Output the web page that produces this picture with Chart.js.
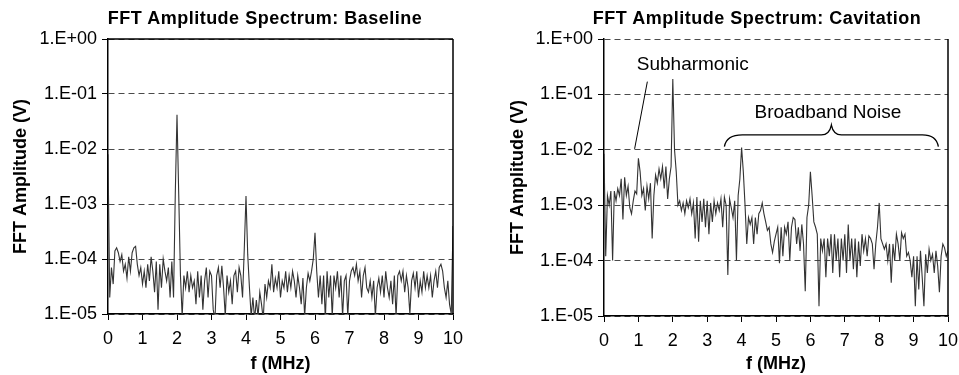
<!DOCTYPE html>
<html>
<head>
<meta charset="utf-8">
<script src="https://cdn.jsdelivr.net/npm/chart.js@4"></script>
<style>
body { margin: 0; background: #fff; width: 959px; height: 375px; overflow: hidden; position: relative;
       font-family: "Liberation Sans", Arial, sans-serif; }
.box { position: absolute; top: 0; height: 375px; }
.title { position: absolute; top: 8px; width: 480px; text-align: center; font-weight: bold;
         font-size: 18px; letter-spacing: 0.5px; line-height: 20px; color: #000; }
</style>
</head>
<body>
<div class="box" style="left:0;width:480px"><canvas id="baseChart"></canvas></div>
<div class="box" style="left:480px;width:479px"><canvas id="cavChart"></canvas></div>
<div class="title" style="left:25px">FFT Amplitude Spectrum: Baseline</div>
<div class="title" style="left:517px">FFT Amplitude Spectrum: Cavitation</div>
<script>
// frequency bins: 0 .. 10 MHz, one value every 0.05 MHz (10 values per row = 0.5 MHz)
const freqStep = 0.05;
const xTicks = [0, 1, 2, 3, 4, 5, 6, 7, 8, 9, 10];
const yTicks = [1e-5, 1e-4, 1e-3, 1e-2, 1e-1, 1];
const yTickLabels = ['1.E-05', '1.E-04', '1.E-03', '1.E-02', '1.E-01', '1.E+00'];

const baseline = [
  8e-3, 2e-5, 7e-5, 3.5e-5, 1.4e-4, 1.6e-4, 1.3e-4, 9e-5, 1.2e-4, 6e-5,
  8e-5, 4.5e-5, 1.1e-4, 6e-5, 1.3e-4, 1.6e-4, 1.7e-4, 8e-5, 5e-5, 7e-5,
  3.5e-5, 6e-5, 3e-5, 8e-5, 4e-5, 1.1e-4, 6e-5, 2.5e-5, 9e-5, 1.2e-5,
  8e-5, 3e-5, 1e-4, 6e-5, 4e-5, 7e-5, 2e-5, 9e-5, 2e-5, 1.5e-3,
  4.2e-2, 1.5e-3, 5e-5, 9e-6, 5e-5, 3e-5, 6e-5, 2.5e-5, 5e-5, 3e-5,
  4e-5, 1.5e-5, 6e-5, 2e-5, 5e-5, 1.2e-5, 4e-5, 7e-5, 2e-5, 6e-5,
  5e-5, 1.2e-5, 8e-6, 5e-5, 7e-5, 3e-5, 7.5e-5, 3e-5, 9e-6, 5e-5,
  2.5e-5, 4e-5, 1.5e-5, 5e-5, 6e-5, 2.5e-5, 7e-5, 5e-5, 2e-5, 1.5e-4,
  1.4e-3, 1.2e-4, 3e-5, 9e-6, 2e-5, 8e-6, 1.8e-5, 9e-6, 2.5e-5, 1.5e-5,
  8e-6, 3.5e-5, 2e-5, 4e-5, 3e-5, 8e-5, 2.5e-5, 4.5e-5, 3e-5, 6e-5,
  2e-5, 4e-5, 3e-5, 6e-5, 2.5e-5, 5e-5, 3e-5, 6e-5, 4e-5, 2e-5,
  5e-5, 3e-5, 1.5e-5, 4.5e-5, 9e-6, 3e-5, 5.5e-5, 4e-5, 6e-5, 1e-4,
  3e-4, 6e-5, 2e-5, 5e-5, 1.5e-5, 5e-5, 8e-6, 6e-5, 2e-5, 5e-5,
  9e-6, 5e-5, 3e-5, 6e-5, 2e-5, 5e-5, 9e-6, 4e-5, 5e-5, 9e-6,
  4e-5, 6e-5, 7e-5, 5e-5, 8e-5, 4e-5, 6e-5, 2e-5, 5e-5, 7e-5,
  3e-5, 2.5e-5, 4e-5, 2e-5, 4e-5, 9e-6, 3e-5, 4.5e-5, 2.5e-5, 5e-5,
  2e-5, 6e-5, 3e-5, 2e-5, 4e-5, 1.5e-5, 5e-5, 9e-6, 5e-5, 6e-5,
  4e-5, 6e-5, 2.5e-5, 5e-5, 3e-5, 1e-5, 4e-5, 5.5e-5, 3e-5, 6e-5,
  2e-5, 4e-5, 2.5e-5, 6e-5, 3e-5, 5e-5, 3e-5, 5e-5, 2e-5, 4e-5,
  6e-5, 3e-5, 7e-5, 8e-5, 6e-5, 3e-5, 2e-5, 4e-5, 1.5e-5, 1e-5,
  4e-4
];

const cavitation = [
  8.5e-3, 1.2e-4, 1.5e-3, 1e-3, 1.8e-3, 1e-4, 1.8e-3, 1.2e-3, 2e-3, 1.5e-3,
  3e-3, 5.5e-4, 3.2e-3, 1.5e-3, 2.2e-3, 9e-4, 7e-4, 1.2e-3, 1.8e-3, 1.6e-3,
  7e-3, 4e-3, 1.5e-3, 2e-3, 8e-4, 2.2e-3, 1.3e-3, 2.5e-3, 2.5e-4, 1.5e-3,
  3.5e-3, 2.5e-3, 4.5e-3, 3e-3, 5e-3, 2e-3, 5e-3, 1.3e-3, 3e-3, 5e-3,
  0.19, 1e-2, 4e-3, 1e-3, 1.2e-3, 8e-4, 1.1e-3, 7e-4, 1.2e-3, 9e-4,
  1.3e-3, 7e-4, 1.1e-3, 2.5e-4, 1.4e-3, 2.2e-4, 1.2e-3, 5e-4, 1.3e-3, 4e-4,
  1.2e-3, 3e-4, 1.1e-3, 5e-4, 1.2e-3, 7e-4, 1.1e-3, 8e-4, 1.3e-3, 4e-4,
  1.4e-3, 1e-3, 5.5e-5, 1.3e-3, 9e-4, 6e-4, 1.2e-3, 1e-4, 1.5e-3, 3e-3,
  1.1e-2, 4e-3, 1e-3, 2e-4, 6e-4, 4.5e-4, 6e-4, 2e-4, 6e-4, 3e-4,
  7e-4, 8e-4, 1.1e-3, 7e-4, 5e-4, 3.5e-4, 4e-4, 2e-4, 1.4e-4, 2.2e-4,
  3e-4, 4e-4, 9e-5, 4e-4, 1.2e-4, 4e-4, 3e-4, 5e-4, 1e-4, 4e-4,
  6e-4, 5.5e-4, 2e-4, 4e-4, 1.5e-4, 4.5e-4, 2e-4, 2.8e-5, 6e-4, 1e-3,
  4e-3, 1.5e-3, 5e-4, 4e-4, 3e-4, 1.5e-5, 2.5e-4, 1.5e-4, 2.5e-4, 5e-5,
  2.5e-4, 1.2e-4, 3e-4, 6e-5, 3e-4, 1e-4, 2.5e-4, 5e-5, 2.5e-4, 1e-4,
  3e-4, 6e-5, 4.5e-4, 1e-4, 2.5e-4, 7e-5, 2.5e-4, 5e-5, 2.2e-4, 8e-5,
  3e-4, 1.5e-4, 2.5e-4, 1.2e-4, 2.8e-4, 2.5e-4, 2e-4, 7e-5, 2e-4, 4e-4,
  1.1e-3, 2.5e-4, 2e-4, 1.6e-4, 2e-4, 1e-4, 2e-4, 4e-5, 2e-4, 1e-4,
  3e-4, 2e-4, 1e-4, 3.2e-4, 2.5e-4, 3e-4, 1.2e-4, 1.4e-4, 1e-4, 5e-5,
  1.2e-4, 1.5e-5, 1.2e-4, 3e-5, 1.5e-4, 5e-5, 1.5e-5, 1.3e-4, 6e-5, 1.6e-4,
  1e-4, 1.3e-4, 6e-5, 1.5e-4, 8e-5, 2.7e-5, 1.2e-4, 2e-4, 1.7e-4, 1.2e-4,
  1.5e-4
];

// annotations on the cavitation chart, in data units (MHz, V)
const subLabel = { text: 'Subharmonic', x: 2.58, y: 0.34 };
const subLeader = [[1.26, 0.17], [0.89, 0.0104]];
const noiseLabel = { text: 'Broadband Noise', x: 6.51, y: 0.0465 };
const noiseBrace = { from: 3.5, to: 9.72, tip: 6.61, yEnd: 0.0114, yBar: 0.0186, yTip: 0.028 };

const FONT = '"Liberation Sans", Arial, sans-serif';

const framePlugin = {
  id: 'frame',
  afterDatasetsDraw(chart, args, opts) {
    const { ctx, chartArea: a } = chart;
    ctx.save();
    ctx.strokeStyle = '#000';
    ctx.lineWidth = 1.5;
    ctx.beginPath();
    if (opts.solidTop) {
      ctx.moveTo(a.left, a.top);
      ctx.lineTo(a.right, a.top);
    }
    ctx.moveTo(a.right, a.top);
    ctx.lineTo(a.right, a.bottom);
    ctx.stroke();
    ctx.restore();
  }
};

const notesPlugin = {
  id: 'notes',
  afterDatasetsDraw(chart, args, opts) {
    if (!opts.show) return;
    const { ctx } = chart;
    const xs = chart.scales.x, ys = chart.scales.y;
    const px = v => xs.getPixelForValue(v), py = v => ys.getPixelForValue(v);
    ctx.save();
    ctx.fillStyle = '#000';
    ctx.strokeStyle = '#000';
    ctx.lineWidth = 1;
    ctx.font = '19px ' + FONT;
    ctx.textAlign = 'center';
    ctx.textBaseline = 'middle';
    ctx.fillText(subLabel.text, px(subLabel.x), py(subLabel.y));
    ctx.fillText(noiseLabel.text, px(noiseLabel.x), py(noiseLabel.y));

    ctx.beginPath();
    ctx.moveTo(px(subLeader[0][0]), py(subLeader[0][1]));
    ctx.lineTo(px(subLeader[1][0]), py(subLeader[1][1]));
    ctx.stroke();

    const x1 = px(noiseBrace.from), x2 = px(noiseBrace.to), xm = px(noiseBrace.tip);
    const yE = py(noiseBrace.yEnd), yB = py(noiseBrace.yBar), yT = py(noiseBrace.yTip);
    ctx.lineWidth = 1.3;
    ctx.beginPath();
    ctx.moveTo(x1, yE);
    ctx.quadraticCurveTo(x1 + 2, yB, x1 + 18, yB);
    ctx.lineTo(xm - 10, yB);
    ctx.quadraticCurveTo(xm - 2, yB, xm, yT);
    ctx.quadraticCurveTo(xm + 2, yB, xm + 10, yB);
    ctx.lineTo(x2 - 16, yB);
    ctx.quadraticCurveTo(x2 - 2, yB, x2, yE);
    ctx.stroke();
    ctx.restore();
  }
};

function makeChart(id, values, cfg) {
  const points = values.map((v, i) => ({ x: i * freqStep, y: v }));
  return new Chart(document.getElementById(id), {
    type: 'line',
    data: {
      datasets: [{
        data: points,
        borderColor: '#333',
        borderWidth: 1.1,
        pointRadius: 0,
        tension: 0
      }]
    },
    plugins: [framePlugin, notesPlugin],
    options: {
      responsive: true,
      maintainAspectRatio: false,
      animation: false,
      layout: { padding: { top: 39, right: cfg.padRight, left: 0, bottom: 0 } },
      plugins: {
        legend: { display: false },
        tooltip: { enabled: false },
        frame: { solidTop: cfg.solidTop },
        notes: { show: cfg.notes }
      },
      scales: {
        x: {
          type: 'linear',
          min: 0,
          max: 10,
          afterBuildTicks: axis => { axis.ticks = xTicks.map(v => ({ value: v })); },
          afterFit: axis => { axis.height = cfg.xHeight; axis.paddingLeft = 0; axis.paddingRight = 0; },
          ticks: { color: '#000', font: { family: FONT, size: 18 }, padding: 8, maxRotation: 0 },
          grid: { drawOnChartArea: false, drawTicks: true, tickLength: 6, tickColor: '#000' },
          border: { color: '#000', width: 1.5 },
          title: { display: true, text: 'f (MHz)', color: '#000',
                   font: { family: FONT, size: 18, weight: 'bold' }, padding: { top: 0, bottom: 0 } }
        },
        y: {
          type: 'logarithmic',
          min: 1e-5,
          max: 1,
          afterBuildTicks: axis => { axis.ticks = yTicks.map(v => ({ value: v })); },
          afterFit: axis => { axis.width = cfg.yWidth; },
          ticks: { color: '#000', font: { family: FONT, size: 18 }, padding: 5,
                   callback: (v, i) => yTickLabels[i] },
          grid: { color: '#4a4a4a', lineWidth: 1, tickLength: 6, tickColor: '#000', tickBorderDash: [] },
          border: { color: '#000', width: 1.5, dash: [6, 4] },
          title: { display: true, text: 'FFT Amplitude (V)', color: '#000',
                   font: { family: FONT, size: 18, weight: 'bold' }, padding: { top: cfg.yTitlePad, bottom: 0 } }
        }
      }
    }
  });
}

makeChart('baseChart', baseline, { padRight: 27, yWidth: 108, xHeight: 61, yTitlePad: 10, solidTop: true, notes: false });
makeChart('cavChart', cavitation, { padRight: 11, yWidth: 124, xHeight: 59, yTitlePad: 27, solidTop: false, notes: true });
</script>
</body>
</html>
